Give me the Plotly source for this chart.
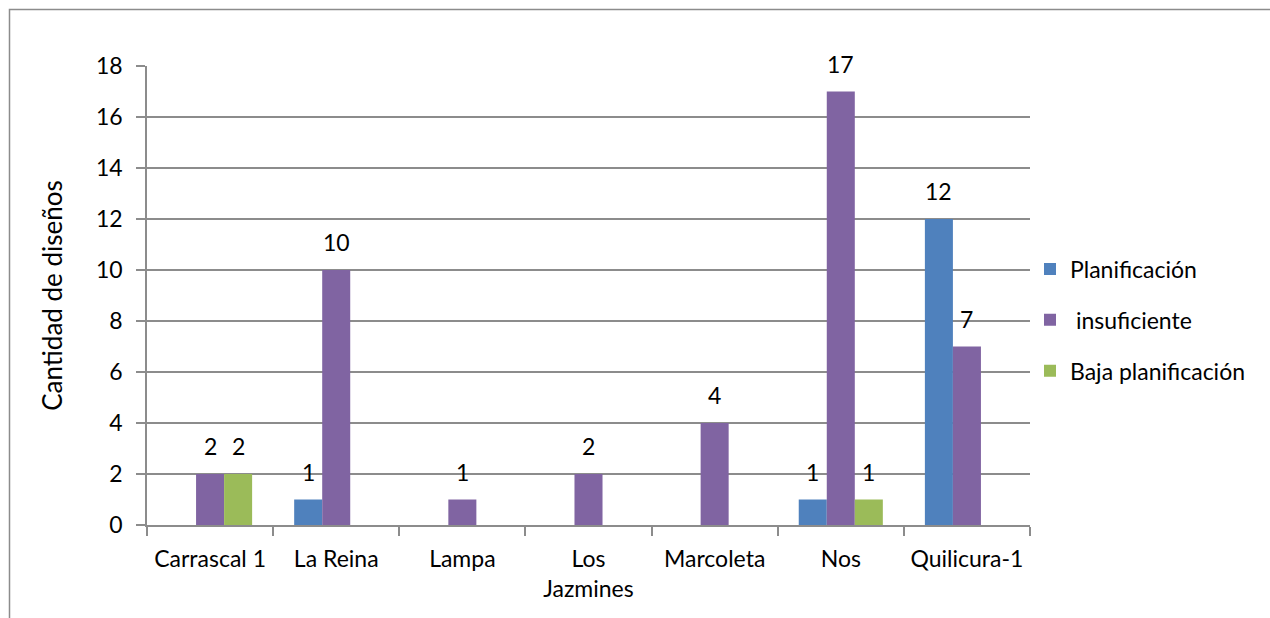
import plotly.graph_objects as go

# Sites (x categories)
categories = ["Carrascal 1", "La Reina", "Lampa", "Los<br>Jazmines", "Marcoleta", "Nos", "Quilicura-1"]

# Number of designs per site for each planning level (None = no bar)
planificacion = [None, 1, None, None, None, 1, 12]
insuficiente = [2, 10, 1, 2, 4, 17, 7]
baja_planificacion = [2, None, None, None, None, 1, None]

series_names = ["Planificación", " insuficiente", "Baja planificación"]
series_colors = ["#4F81BD", "#8064A2", "#9BBB59"]
series_values = [planificacion, insuficiente, baja_planificacion]

y_ticks = [0, 2, 4, 6, 8, 10, 12, 14, 16, 18]

FONT = "Lato, 'Liberation Sans', sans-serif"
GRID = "#8C8C8C"
FS = 23

# pixel geometry of the plot area
W, H = 1270, 618
L, R, T, B = 147, 240, 66, 93
plot_w = W - L - R
plot_h = H - T - B
cat_w = plot_w / len(categories)
bar_w = cat_w * (2 / 3) / len(series_names)

fig = go.Figure()
annotations = []
for i, (name, color, vals) in enumerate(zip(series_names, series_colors, series_values)):
    fig.add_trace(go.Bar(
        x=categories, y=vals, name=name,
        marker=dict(color=color, line=dict(width=0)),
        legendgroup=name,
    ))
    shift = (i - 1) * bar_w
    for c, v in zip(categories, vals):
        if v is None:
            continue
        annotations.append(dict(
            x=c, y=v, xref="x", yref="y", text=str(v), showarrow=False,
            xshift=shift, yshift=28, font=dict(size=FS, color="#000000", family=FONT),
        ))

def px_to_paper_x(px):
    return (px - L) / plot_w

def px_to_paper_y(py):
    return (H - B - py) / plot_h

fig.update_layout(
    width=W, height=H,
    margin=dict(l=L, r=R, t=T, b=B, pad=0, autoexpand=False),
    paper_bgcolor="white", plot_bgcolor="white",
    barmode="group", bargap=1 / 3, bargroupgap=0,
    font=dict(family=FONT, size=FS, color="#000000"),
    annotations=annotations,
    showlegend=True,
    legend=dict(
        x=px_to_paper_x(1030), y=px_to_paper_y(320), xanchor="left", yanchor="middle",
        font=dict(size=FS, family=FONT), tracegroupgap=18, traceorder="grouped",
        itemsizing="constant", bgcolor="rgba(0,0,0,0)",
    ),
    xaxis=dict(
        showline=True, linecolor=GRID, linewidth=1.5, automargin=False, tickangle=0,
        ticks="outside", tickson="boundaries", ticklen=9, tickcolor=GRID, tickwidth=1.5,
        tickfont=dict(size=FS, family=FONT), showgrid=False, ticklabelstandoff=13,
    ),
    yaxis=dict(
        range=[0, 18], tickvals=y_ticks, showline=True, linecolor=GRID, linewidth=1.5,
        ticks="outside", ticklen=9, tickcolor=GRID, tickwidth=1.5, automargin=False,
        showgrid=True, gridcolor=GRID, gridwidth=1.5, zeroline=False,
        tickfont=dict(size=FS, family=FONT), ticklabelstandoff=9,
        title=dict(text="Cantidad de diseños", font=dict(size=26, family=FONT), standoff=26),
    ),
    shapes=[dict(
        type="rect", xref="paper", yref="paper",
        x0=px_to_paper_x(9.5), x1=px_to_paper_x(W + 10),
        y0=px_to_paper_y(H + 10), y1=px_to_paper_y(9.5),
        line=dict(color="#8C8C8C", width=1.5), fillcolor="rgba(0,0,0,0)", layer="below",
    )],
)

fig.write_html("out.html")
